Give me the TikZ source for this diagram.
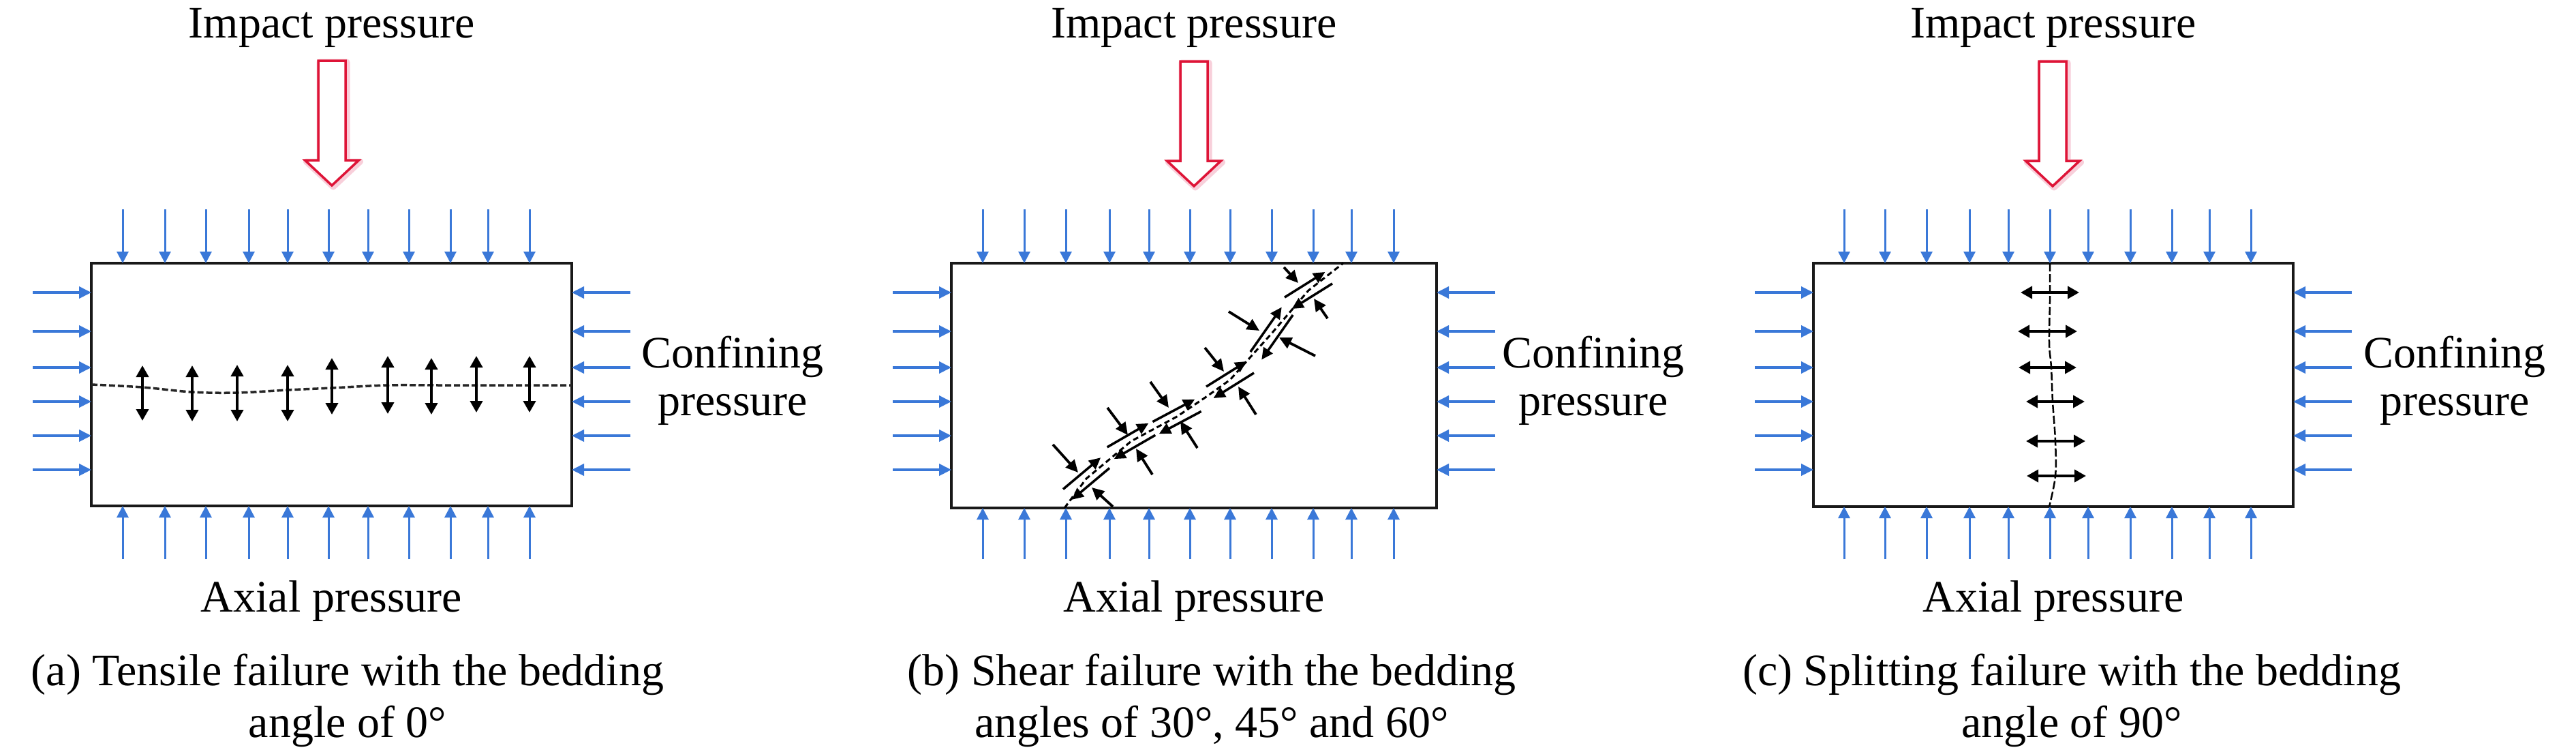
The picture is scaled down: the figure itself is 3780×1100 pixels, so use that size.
\documentclass[tikz,border=0pt]{standalone}
\usepackage{fontspec}
\setmainfont{Liberation Serif}
\usetikzlibrary{arrows.meta}
\definecolor{pblue}{RGB}{58,120,216}
\definecolor{pred}{RGB}{222,20,55}
\definecolor{ppink}{RGB}{240,150,175}
\tikzset{
  lbl/.style={font=\fontsize{66}{76}\selectfont, inner sep=0pt, anchor=base},
  specimen/.style={draw=black!90, line width=4.5pt, inner sep=0pt, outer sep=0pt},
  vload/.style={pblue, line width=3pt, -{Triangle[length=17pt,width=17pt]}},
  hload/.style={pblue, line width=3.8pt, -{Triangle[length=18pt,width=17pt]}},
  tensv/.style={black, line width=4pt, {Triangle[length=17pt,width=18pt]}-{Triangle[length=17pt,width=18pt]}},
  crackA/.style={black!85, line width=3.5pt, dash pattern=on 9pt off 4pt},
  crackB/.style={black, line width=3pt, dash pattern=on 8pt off 5pt},
  crackC/.style={black, line width=2.5pt, dash pattern=on 12pt off 4pt},
  shr/.style={black, line width=3.5pt, -{Triangle[length=17pt,width=16pt]}},
  nrm/.style={black, line width=3.8pt, -{Triangle[length=18pt,width=17pt]}},
  impact/.style={pred, line width=3.5pt, line join=miter, fill=white},
  impactglow/.style={ppink, line width=9pt, line join=round, opacity=0.45},
}
\newcommand\shearpair[4]{%
  \begin{scope}[shift={(#1,#2)}, rotate=#3]
    \draw[shr] (-#4,-10) -- (#4,-10);
    \draw[shr] (#4,10) -- (-#4,10);
  \end{scope}}
\newcommand\impactarrow[2]{% center x, top y
  \draw[impactglow] (#1-20+2,#2+2) -- (#1+20+2,#2+2) -- (#1+20+2,#2+146+2) -- (#1+39.5+2,#2+146+2) -- (#1+2,#2+183+2) -- (#1-39.5+2,#2+146+2) -- (#1-20+2,#2+146+2) -- cycle;
  \draw[impact] (#1-20,#2) -- (#1+20,#2) -- (#1+20,#2+146) -- (#1+39.5,#2+146) -- (#1,#2+183) -- (#1-39.5,#2+146) -- (#1-20,#2+146) -- cycle;}
\begin{document}
\begin{tikzpicture}[x=1pt,y=-1pt]
\useasboundingbox (0,0) rectangle (3780,1100);
\fill[white] (0,0) rectangle (3780,1100);

% ================= Panel (a) =================
\node[specimen, minimum width=705pt, minimum height=356pt] (boxA) at (486.5,564) {};
\foreach \x in {180,242,302,365,422,482,540,600,661,716,777} {
  \draw[vload] (\x,307) -- (\x,386);
  \draw[vload] (\x,820) -- (\x,742);
}
\foreach \y in {429,486,539,589,639,689} {
  \draw[hload] (48,\y) -- (134,\y);
  \draw[hload] (925,\y) -- (839,\y);
}
\impactarrow{487}{89}
\draw[crackA] plot[smooth, tension=0.6] coordinates {(134,564) (209,568) (282,575) (348,576) (422,572) (487,569) (569,565) (650,565) (839,565)};
\foreach \x/\ya/\yb in {209/536/617, 282/536/618, 348/535/618, 422/535/618, 487/525/608, 569/522/607, 633/525/608, 699/522/605, 777/522/605} {
  \draw[tensv] (\x,\ya) -- (\x,\yb);
}
\node[lbl] (impA) at (486.5,55) {Impact pressure};
\node[lbl] (axA) at (486.5,897) {Axial pressure};
\node[lbl] (cfA1) at (1075,539) {Confining};
\node[lbl] (cfA2) at (1075,609) {pressure};
\node[lbl] (capA1) at (510,1005) {(a) Tensile failure with the bedding};
\node[lbl] (capA2) at (510,1081) {angle of 0°};

% ================= Panel (b) =================
\node[specimen, minimum width=712pt, minimum height=359pt] (boxB) at (1752,565.5) {};
\foreach \x in {1442,1503,1564,1628,1686,1746,1805,1866,1927,1983,2045} {
  \draw[vload] (\x,307) -- (\x,386);
  \draw[vload] (\x,820) -- (\x,745);
}
\foreach \y in {429,486,539,589,639,689} {
  \draw[hload] (1310,\y) -- (1396,\y);
  \draw[hload] (2194,\y) -- (2108,\y);
}
\impactarrow{1752}{90}
\draw[crackB] (1562,745) -- (1594,702) -- (1660,647) -- (1727,611) -- (1770,582) -- (1805,557) -- (1866,489) -- (1920,426) -- (1971,386);
\shearpair{1594}{702}{40}{36}
\shearpair{1660}{647}{30}{35}
\shearpair{1727}{611}{28}{35}
\shearpair{1805}{557}{32}{35}
\shearpair{1866}{489}{55}{40}
\shearpair{1920}{426}{32}{35}
\draw[nrm] (1545,652) -- (1582,693);
\draw[nrm] (1633,743) -- (1602,715);
\draw[nrm] (1625,598) -- (1655,638);
\draw[nrm] (1691,696) -- (1667,658);
\draw[nrm] (1688,560) -- (1715,598);
\draw[nrm] (1757,657) -- (1732,618);
\draw[nrm] (1768,510) -- (1796,545);
\draw[nrm] (1843,608) -- (1817,567);
\draw[nrm] (1803,457) -- (1848,485);
\draw[nrm] (1930,522) -- (1877,495);
\draw[nrm] (1884,392) -- (1905,415);
\draw[nrm] (1948,467) -- (1928,438);
\node[lbl] (impB) at (1752,55) {Impact pressure};
\node[lbl] (axB) at (1752,897) {Axial pressure};
\node[lbl] (cfB1) at (2338,539) {Confining};
\node[lbl] (cfB2) at (2338,609) {pressure};
\node[lbl] (capB1) at (1778,1005) {(b) Shear failure with the bedding};
\node[lbl] (capB2) at (1778,1081) {angles of 30°, 45° and 60°};

% ================= Panel (c) =================
\node[specimen, minimum width=704pt, minimum height=357pt] (boxC) at (3013,564.5) {};
\foreach \x in {2706,2766,2827,2890,2947,3008,3064,3126,3187,3242,3303} {
  \draw[vload] (\x,307) -- (\x,386);
  \draw[vload] (\x,820) -- (\x,743);
}
\foreach \y in {429,486,539,589,639,689} {
  \draw[hload] (2575,\y) -- (2661,\y);
  \draw[hload] (3451,\y) -- (3365,\y);
}
\impactarrow{3012}{90}
\draw[crackC] plot[smooth, tension=0.6] coordinates {(3008,386) (3008,440) (3007,503) (3010,539) (3012,589) (3016,647) (3016,698) (3007,743)};
\foreach \y/\xa/\xb in {429/2965/3051, 486/2961/3048, 539/2962/3047, 589/2973/3059, 647/2973/3060, 698/2974/3061} {
  \draw[tensv] (\xa,\y) -- (\xb,\y);
}
\node[lbl] (impC) at (3013,55) {Impact pressure};
\node[lbl] (axC) at (3013,897) {Axial pressure};
\node[lbl] (cfC1) at (3602,539) {Confining};
\node[lbl] (cfC2) at (3602,609) {pressure};
\node[lbl] (capC1) at (3040,1005) {(c) Splitting failure with the bedding};
\node[lbl] (capC2) at (3040,1081) {angle of 90°};
\end{tikzpicture}
\end{document}
